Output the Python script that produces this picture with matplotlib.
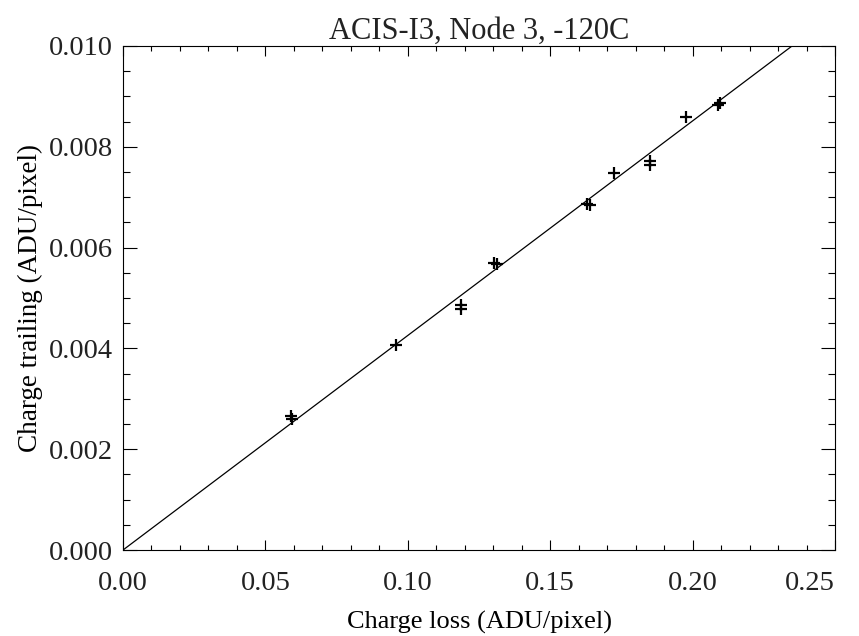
import matplotlib
matplotlib.use("Agg")
import matplotlib.pyplot as plt
import numpy as np
from matplotlib.ticker import MultipleLocator

plt.rcParams['font.family'] = ['Liberation Serif', 'DejaVu Serif']
plt.rcParams['text.color'] = '#222222'
plt.rcParams['xtick.labelcolor'] = '#222222'
plt.rcParams['ytick.labelcolor'] = '#222222'

title = "ACIS-I3, Node 3, -120C"
xlabel = "Charge loss (ADU/pixel)"
ylabel = "Charge trailing (ADU/pixel)"

charge_loss = [0.0590, 0.0594, 0.0958, 0.1185, 0.1188, 0.1303, 0.1313,
               0.1628, 0.1640, 0.1724, 0.1850, 0.1852, 0.1977, 0.2090, 0.2095]
charge_trail = [0.00266, 0.00260, 0.00407, 0.00487, 0.00479, 0.00570, 0.00567,
                0.00686, 0.00685, 0.00748, 0.00772, 0.00764, 0.00860, 0.00882, 0.00886]
fit_slope = 0.04257

xticks = [0.00, 0.05, 0.10, 0.15, 0.20, 0.25]
xticklabels = ["0.00", "0.05", "0.10", "0.15", "0.20", "0.25"]
yticks = [0.000, 0.002, 0.004, 0.006, 0.008, 0.010]
yticklabels = ["0.000", "0.002", "0.004", "0.006", "0.008", "0.010"]

fig = plt.figure(figsize=(8.59, 6.36), dpi=100)
ax = fig.add_axes([0.1432, 0.1352, 0.9721 - 0.1432, 0.9277 - 0.1352])

fx = np.array([0.0, 0.25])
ax.plot(fx, fit_slope * fx, color='black', lw=0.9)
ax.plot(charge_loss, charge_trail, linestyle='none', marker='+', color='black',
        markersize=9, markeredgewidth=1.6)

ax.set_xlim(0, 0.25)
ax.set_ylim(0, 0.010)
ax.set_xticks(xticks)
ax.set_xticklabels(xticklabels)
ax.set_yticks(yticks)
ax.set_yticklabels(yticklabels)
ax.xaxis.set_minor_locator(MultipleLocator(0.01))
ax.yaxis.set_minor_locator(MultipleLocator(0.0005))
ax.tick_params(which='both', direction='in', top=True, right=True, width=0.8, labelsize=20.5)
ax.tick_params(axis='x', which='major', length=7.2, pad=15)
ax.tick_params(axis='x', which='minor', length=3.6)
ax.tick_params(axis='y', which='major', length=10, pad=7)
ax.tick_params(axis='y', which='minor', length=5)
for s in ax.spines.values():
    s.set_linewidth(0.8)

ax.get_xticklabels()[-1].set_horizontalalignment('right')

ax.set_title(title, fontsize=22, pad=4)
ax.set_xlabel(xlabel, fontsize=19, labelpad=11)
ax.set_ylabel(ylabel, fontsize=19.5, labelpad=4)

fig.savefig("out.png", dpi=100)
